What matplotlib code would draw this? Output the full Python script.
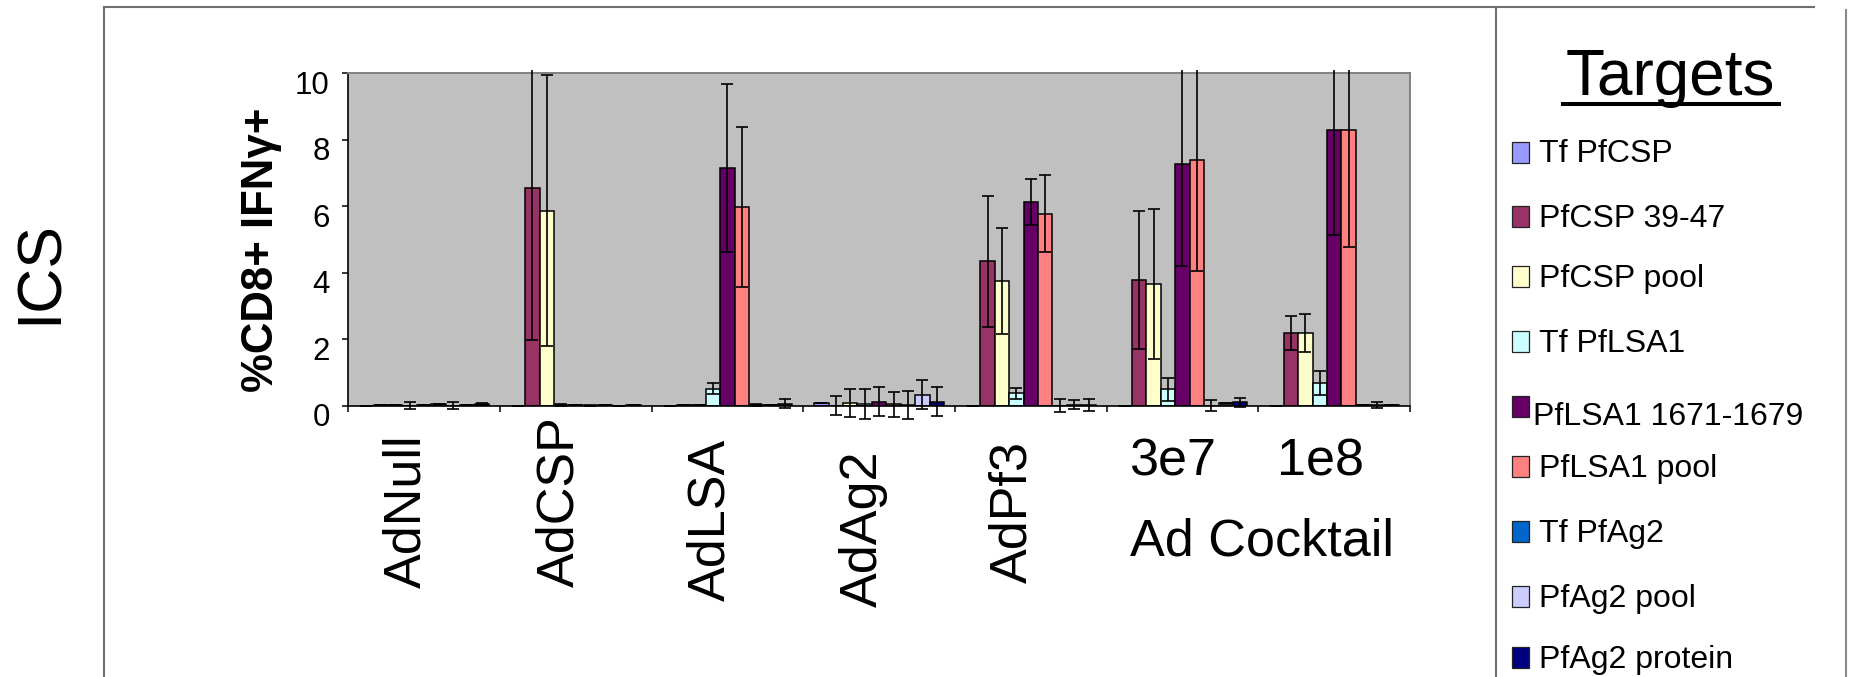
import matplotlib
matplotlib.use("Agg")
import matplotlib.pyplot as plt
import matplotlib.transforms as mtransforms
from matplotlib.patches import Rectangle
from matplotlib.lines import Line2D
import numpy as np

plt.rcParams["font.family"] = ["Liberation Sans", "DejaVu Sans"]

# ---- data ---------------------------------------------------------------
groups = ["AdNull", "AdCSP", "AdLSA", "AdAg2", "AdPf3", "3e7", "1e8"]
rotated_labels = ["AdNull", "AdCSP", "AdLSA", "AdAg2", "AdPf3"]
cocktail_doses = ["3e7", "1e8"]
cocktail_label = "Ad Cocktail"

targets = ["Tf PfCSP", "PfCSP 39-47", "PfCSP pool", "Tf PfLSA1",
           "PfLSA1 1671-1679", "PfLSA1 pool", "Tf PfAg2", "PfAg2 pool",
           "PfAg2 protein"]

tf_pfcsp = [0.00, 0.00, 0.00, 0.09, 0.00, 0.00, 0.00]
tf_pfcsp_err = [0.00, 0.00, 0.00, 0.00, 0.00, 0.00, 0.00]
pfcsp_3947 = [0.02, 6.56, 0.02, 0.00, 4.35, 3.79, 2.20]
pfcsp_3947_err = [0.00, 4.59, 0.00, 0.28, 1.97, 2.07, 0.51]
pfcsp_pool = [0.02, 5.87, 0.03, 0.09, 3.76, 3.66, 2.20]
pfcsp_pool_err = [0.00, 4.08, 0.00, 0.42, 1.60, 2.26, 0.57]
tf_pflsa1 = [0.00, 0.02, 0.51, 0.05, 0.37, 0.49, 0.68]
tf_pflsa1_err = [0.10, 0.03, 0.16, 0.45, 0.17, 0.35, 0.36]
pflsa1_1671 = [0.03, 0.02, 7.16, 0.12, 6.14, 7.28, 8.30]
pflsa1_1671_err = [0.00, 0.00, 2.53, 0.44, 0.69, 3.07, 3.17]
pflsa1_pool = [0.05, 0.00, 5.97, 0.04, 5.78, 7.38, 8.30]
pflsa1_pool_err = [0.00, 0.02, 2.40, 0.37, 1.17, 3.32, 3.54]
tf_pfag2 = [0.00, 0.03, 0.02, 0.03, 0.00, 0.00, 0.02]
tf_pfag2_err = [0.10, 0.00, 0.02, 0.42, 0.20, 0.16, 0.00]
pfag2_pool = [0.03, 0.00, 0.02, 0.33, 0.03, 0.07, 0.02]
pfag2_pool_err = [0.00, 0.00, 0.00, 0.44, 0.14, 0.02, 0.08]
pfag2_protein = [0.04, 0.03, 0.06, 0.12, 0.03, 0.10, 0.02]
pfag2_protein_err = [0.03, 0.00, 0.13, 0.44, 0.18, 0.14, 0.00]

values = [tf_pfcsp, pfcsp_3947, pfcsp_pool, tf_pflsa1, pflsa1_1671,
          pflsa1_pool, tf_pfag2, pfag2_pool, pfag2_protein]
errors = [tf_pfcsp_err, pfcsp_3947_err, pfcsp_pool_err, tf_pflsa1_err,
          pflsa1_1671_err, pflsa1_pool_err, tf_pfag2_err, pfag2_pool_err,
          pfag2_protein_err]
colors = ["#9999FF", "#993366", "#FFFFCC", "#CCFFFF", "#660066",
          "#FF8080", "#0066CC", "#CCCCFF", "#000080"]

y_ticks = [0, 2, 4, 6, 8, 10]

# ---- figure -------------------------------------------------------------
W, H = 1850, 677
fig = plt.figure(figsize=(W / 100, H / 100), dpi=100)
fig.patch.set_facecolor("white")


def fx(px):
    return px / W


def fy(py):
    return 1 - py / H


# outer frame
frame_kw = dict(color="#707070", lw=1.5, transform=fig.transFigure)
fig.add_artist(Line2D([fx(104), fx(1814)], [fy(7), fy(7)], **frame_kw))
fig.add_artist(Line2D([fx(104), fx(104)], [fy(7), fy(677)], **frame_kw))
fig.add_artist(Line2D([fx(1496), fx(1496)], [fy(7), fy(677)], **frame_kw))
fig.add_artist(Line2D([fx(1846), fx(1846)], [fy(10), fy(677)],
                      color="#8a8a8a", lw=1.5, transform=fig.transFigure))

ax_l, ax_r, ax_t, ax_b = 348.3, 1410, 73.3, 405.7
ax = fig.add_axes([fx(ax_l), fy(ax_b), fx(ax_r - ax_l), (ax_b - ax_t) / H])
ax.set_facecolor("#C0C0C0")

n_series = len(targets)
bar_w = 0.0952
x = np.arange(len(groups))
# error bars may run a little past the top of the plot area
clip = Rectangle((0, -1.0), len(groups), 11.1, transform=ax.transData)

for i in range(n_series):
    centers = x + 0.5 + (i - (n_series - 1) / 2) * bar_w
    ax.bar(centers, values[i], width=bar_w, color=colors[i],
           edgecolor="black", linewidth=1.1, zorder=2)
    eb = ax.errorbar(centers, values[i], yerr=errors[i], fmt="none",
                     ecolor="black", elinewidth=1.2, capsize=4.3,
                     capthick=1.2, zorder=3)
    for art in list(eb.lines[1]) + list(eb.lines[2]):
        art.set_clip_path(clip)

ax.set_xlim(0, len(groups))
ax.set_ylim(0, 10)
ax.set_yticks(y_ticks)
ax.set_yticklabels([str(t) for t in y_ticks], fontsize=22.5)
ax.set_xticks(np.arange(len(groups) + 1))
ax.set_xticklabels([])
ax.tick_params(axis="both", direction="out", length=4.3, width=1.1,
               color="black")
ax.tick_params(axis="y", pad=9)
shift = mtransforms.ScaledTranslation(0, -9 / 100, fig.dpi_scale_trans)
for lab in ax.get_yticklabels():
    lab.set_transform(lab.get_transform() + shift)

for side in ("top", "right"):
    ax.spines[side].set_color("#808080")
    ax.spines[side].set_linewidth(1.4)
for side in ("left", "bottom"):
    ax.spines[side].set_color("black")
    ax.spines[side].set_linewidth(1.2)

# axis titles
fig.text(fx(40), fy(272), "ICS", rotation=90, ha="center", va="center",
         fontsize=45)
fig.text(fx(261), fy(250), "%CD8+ IFNγ+", rotation=90, ha="center",
         va="center", fontsize=31.5, fontweight="bold")

# category labels
rot_x = [407, 560, 711, 863, 1013]
rot_bottom = [588, 587, 601, 607, 583]
for lab, px, pb in zip(rotated_labels, rot_x, rot_bottom):
    fig.text(fx(px), fy(pb), lab, rotation=90, ha="center", va="bottom",
             fontsize=37.5)
for lab, px in zip(cocktail_doses, [1129, 1277]):
    fig.text(fx(px), fy(475), lab, ha="left", va="baseline", fontsize=37.5)
fig.text(fx(1130), fy(556), cocktail_label, ha="left", va="baseline",
         fontsize=37.5)

# legend panel
fig.text(fx(1670), fy(95), "Targets", ha="center", va="baseline",
         fontsize=46)
fig.add_artist(Line2D([fx(1563), fx(1779)], [fy(104), fy(104)],
                      color="black", lw=2.9, transform=fig.transFigure))

baselines = [162, 227, 287, 352, 425, 477, 542, 607, 668]
text_x = [1539, 1539, 1539, 1539, 1533, 1539, 1539, 1539, 1539]
square_bottom = [163, 227, 287, 352, 417, 477, 542, 607, 668]
for name, col, yb, tx, sb in zip(targets, colors, baselines, text_x,
                                 square_bottom):
    fig.add_artist(Rectangle((fx(1512), fy(sb)), fx(17), 21 / H,
                             facecolor=col, edgecolor="#222222", lw=0.9,
                             transform=fig.transFigure))
    fig.text(fx(tx), fy(yb), name, ha="left", va="baseline", fontsize=23)

fig.savefig("out.png", dpi=100)
